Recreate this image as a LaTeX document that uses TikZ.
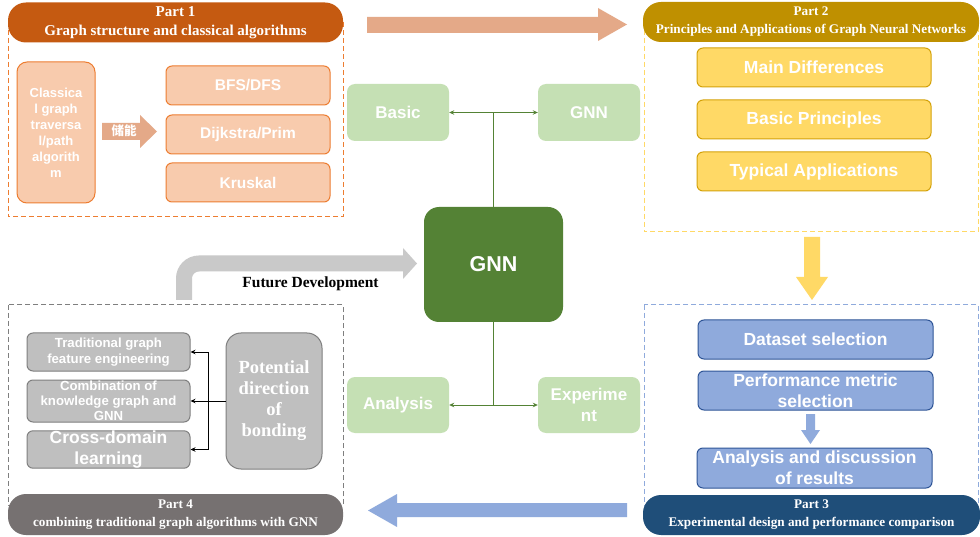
\documentclass[tikz,border=0pt]{standalone}
\usepackage{fontspec}
\setmainfont{Liberation Serif}
\setsansfont{Liberation Sans}
\newfontfamily\cjk{Noto Sans CJK SC}
\usetikzlibrary{arrows.meta}
\definecolor{pone}{HTML}{C55A11}
\definecolor{ponefill}{HTML}{F8CBAD}
\definecolor{poneline}{HTML}{ED7D31}
\definecolor{ponearrow}{HTML}{E4A988}
\definecolor{ptwo}{HTML}{BF9000}
\definecolor{ptwofill}{HTML}{FFD966}
\definecolor{ptwoline}{HTML}{D4A20A}
\definecolor{pthree}{HTML}{1F4E79}
\definecolor{pthreefill}{HTML}{8FAADC}
\definecolor{pthreeline}{HTML}{2F5597}
\definecolor{pfour}{HTML}{767171}
\definecolor{pfourfill}{HTML}{BFBFBF}
\definecolor{pfourline}{HTML}{7F7F7F}
\definecolor{gdark}{HTML}{548235}
\definecolor{glight}{HTML}{C5E0B4}
\definecolor{fdgray}{HTML}{C9C9C9}
\begin{document}
\begin{tikzpicture}[x=1pt,y=-1pt,
  header/.style={rounded corners=18pt, inner sep=0pt, text=white, align=center,
    font=\fontsize{13.2}{18}\selectfont\bfseries},
  item/.style={rounded corners=6pt, draw, line width=1pt, inner sep=0pt, text=white,
    align=center, font=\sffamily\bfseries\fontsize{17.5}{21}\selectfont},
  greenbox/.style={rounded corners=8pt, fill=glight, inner sep=0pt, text=white,
    align=center, minimum width=102pt, minimum height=56pt,
    font=\sffamily\bfseries\fontsize{17}{21.5}\selectfont},
  dashbox/.style={dashed, dash pattern=on 5pt off 3pt, line width=1pt},
  gconn/.style={draw=gdark, line width=0.9pt},
  bconn/.style={draw=black, line width=1pt},
  tip/.style={-{Stealth[length=5pt,width=4.5pt]}},
  tips/.style={{Stealth[length=5pt,width=4.5pt]}-{Stealth[length=5pt,width=4.5pt]}}
]
\useasboundingbox (0,0) rectangle (980,537);
\fill[white] (0,0) rectangle (980,537);

% ---------- Part 1 ----------
\draw[dashbox, draw=poneline] (8,22) rectangle (343,217);
\node[header, fill=pone, minimum width=335pt, minimum height=40pt,
  font=\fontsize{15}{19}\selectfont\bfseries] (h1) at (175.5,22.5)
  {Part 1\\Graph structure and classical algorithms};
\node[item, fill=ponefill, draw=poneline, rounded corners=10pt, minimum width=78pt,
  minimum height=141pt, font=\sffamily\bfseries\fontsize{13}{16}\selectfont] (cls) at (56,132.5)
  {Classica\\l graph\\traversa\\l/path\\algorith\\m};
\fill[ponearrow] (102,123) -- (140,123) -- (140,115) -- (157,131.5) -- (140,148) -- (140,140) -- (102,140) -- cycle;
\node[text=white, inner sep=0pt, font=\cjk\bfseries\fontsize{12.5}{14}\selectfont] (cn) at (124,131) {储能};
\node[item, fill=ponefill, draw=poneline, minimum width=164pt, minimum height=39pt,
  font=\sffamily\bfseries\fontsize{15.5}{19}\selectfont] (bfs) at (248,85.5) {BFS/DFS};
\node[item, fill=ponefill, draw=poneline, minimum width=164pt, minimum height=39pt,
  font=\sffamily\bfseries\fontsize{15.5}{19}\selectfont] (dij) at (248,134.5) {Dijkstra/Prim};
\node[item, fill=ponefill, draw=poneline, minimum width=164pt, minimum height=39pt,
  font=\sffamily\bfseries\fontsize{15.5}{19}\selectfont] (kru) at (248,182.5) {Kruskal};

% top arrow
\fill[ponearrow] (367,17) -- (598,17) -- (598,8) -- (627,24.5) -- (598,41) -- (598,33) -- (367,33) -- cycle;

% ---------- Part 2 ----------
\draw[dashbox, draw=ptwofill] (644,22) rectangle (978,232);
\node[header, fill=ptwo, minimum width=336pt, minimum height=40pt] (h2) at (811,22)
  {Part 2\\Principles and Applications of Graph Neural Networks};
\node[item, fill=ptwofill, draw=ptwoline, minimum width=234pt, minimum height=39pt] (md) at (814,67.5) {Main Differences};
\node[item, fill=ptwofill, draw=ptwoline, minimum width=234pt, minimum height=39pt] (bp) at (814,119.5) {Basic Principles};
\node[item, fill=ptwofill, draw=ptwoline, minimum width=234pt, minimum height=39pt] (ta) at (814,171.5) {Typical Applications};

% yellow down arrow
\fill[ptwofill] (804,237) -- (820,237) -- (820,277) -- (828,277) -- (812,300) -- (796,277) -- (804,277) -- cycle;

% ---------- Part 3 ----------
\draw[dashbox, draw=pthreefill] (644,305) rectangle (978,505);
\node[item, fill=pthreefill, draw=pthreeline, minimum width=235pt, minimum height=39pt] (ds) at (815.5,339.5) {Dataset selection};
\node[item, fill=pthreefill, draw=pthreeline, minimum width=235pt, minimum height=39pt] (pm) at (815.5,390.5) {Performance metric\\selection};
\node[item, fill=pthreefill, draw=pthreeline, minimum width=235pt, minimum height=40pt] (ad) at (814.5,468) {Analysis and discussion\\of results};
\fill[pthreefill] (806,414) -- (815,414) -- (815,430) -- (820,430) -- (810.5,444) -- (801,430) -- (806,430) -- cycle;
\node[header, fill=pthree, minimum width=337pt, minimum height=40pt] (h3) at (811.5,515)
  {Part 3\\Experimental design and performance comparison};

% bottom arrow
\fill[pthreefill] (627,503) -- (397,503) -- (397,494) -- (368,510.5) -- (397,527) -- (397,517) -- (627,517) -- cycle;

% ---------- Part 4 ----------
\draw[dashbox, draw=pfourline] (8,305) rectangle (343,505);
\node[item, fill=pfourfill, draw=pfourline, minimum width=163pt, minimum height=38pt,
  font=\sffamily\bfseries\fontsize{13.2}{16.5}\selectfont] (t1) at (108.5,352) {Traditional graph\\feature engineering};
\node[item, fill=pfourfill, draw=pfourline, minimum width=163pt, minimum height=42pt,
  font=\sffamily\bfseries\fontsize{13.2}{15}\selectfont] (t2) at (108.5,401) {Combination of\\knowledge graph and\\GNN};
\node[item, fill=pfourfill, draw=pfourline, minimum width=163pt, minimum height=37pt,
  font=\sffamily\bfseries\fontsize{17.5}{21}\selectfont] (t3) at (108.5,449.5) {Cross-domain\\learning};
\node[item, fill=pfourfill, draw=pfourline, rounded corners=15pt, minimum width=96pt, minimum height=136pt,
  font=\bfseries\fontsize{18.5}{21}\selectfont] (pot) at (274,401) {Potential\\direction\\of\\bonding};
\coordinate (j) at (208,401);
\draw[bconn] (pot.west |- j) -- (j);
\draw[bconn] (j |- t1) -- (j |- t3);
\draw[bconn, tip] (j |- t1) -- (t1.east);
\draw[bconn, tip] (j) -- (t2.east |- j);
\draw[bconn, tip] (j |- t3) -- (t3.east);
\node[header, fill=pfour, minimum width=335pt, minimum height=41pt] (h4) at (175.5,514.5)
  {Part 4\\combining traditional graph algorithms with GNN};

% future development arrow
\draw[fdgray, line width=16pt, rounded corners=15pt] (184,300) -- (184,263.5) -- (404,263.5);
\fill[fdgray] (403,248) -- (417,263.5) -- (403,279) -- cycle;
\node[inner sep=0pt, font=\bfseries\fontsize{15.5}{18}\selectfont] (fd) at (310.5,284) {Future Development};

% ---------- centre ----------
\node[rounded corners=15pt, fill=gdark, inner sep=0pt, minimum width=139pt, minimum height=115pt,
  text=white, font=\sffamily\bfseries\fontsize{21.5}{24}\selectfont] (gnn) at (493.5,264.5) {GNN};
\node[greenbox, minimum height=57pt] (basic) at (398,112.5) {Basic};
\node[greenbox, minimum height=57pt] (gnns) at (589,112.5) {GNN};
\node[greenbox] (ana) at (398,405) {Analysis};
\node[greenbox] (exp) at (589,405) {Experime\\nt};
\draw[gconn, tips] (basic.east) -- (gnns.west);
\draw[gconn] (gnn.north) -- (gnn.north |- basic.east);
\draw[gconn, tips] (ana.east) -- (exp.west);
\draw[gconn] (gnn.south) -- (gnn.south |- ana.east);
\end{tikzpicture}
\end{document}
